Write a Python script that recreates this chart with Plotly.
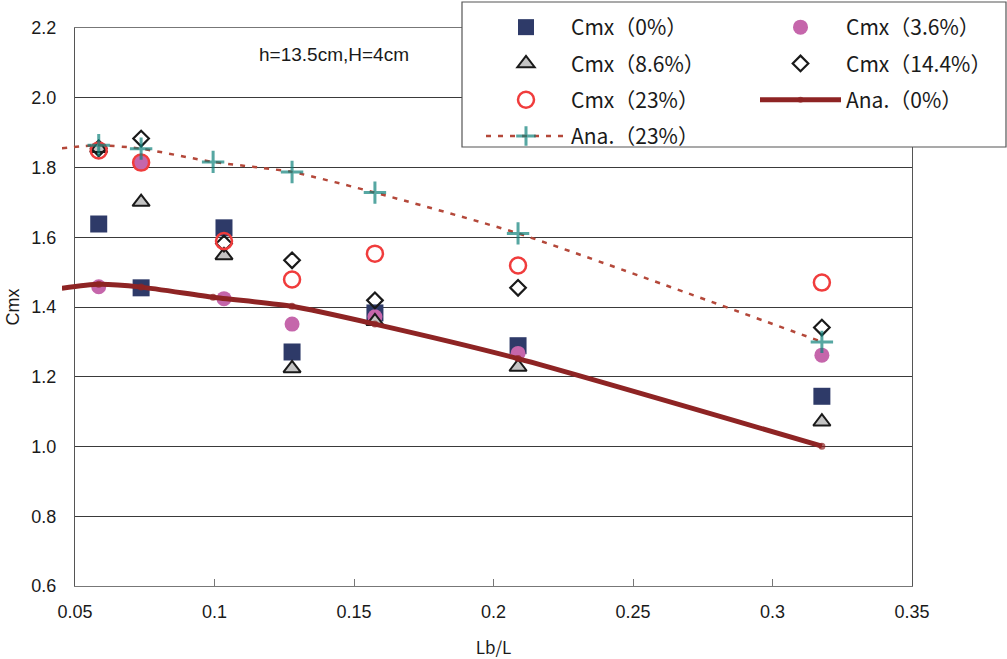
import plotly.graph_objects as go

# ---- data ----
x_meas = [0.0585, 0.0737, 0.1034, 0.1278, 0.1575, 0.2088, 0.3177]
cmx_0 = [1.638, 1.455, 1.627, 1.271, 1.383, 1.289, 1.144]
cmx_3_6 = [1.458, 1.813, 1.424, 1.351, 1.372, 1.267, 1.262]
cmx_8_6 = [1.855, 1.701, 1.548, 1.224, 1.359, 1.228, 1.071]
cmx_14_4 = [1.855, 1.883, 1.582, 1.534, 1.419, 1.455, 1.341]
cmx_23 = [1.849, 1.814, 1.589, 1.479, 1.553, 1.519, 1.470]

x_ana = [0.0453, 0.0585, 0.0737, 0.0995, 0.1278, 0.1575, 0.2088, 0.3177]
ana_0 = [1.454, 1.465, 1.457, 1.428, 1.402, 1.351, 1.252, 1.001]
ana_23 = [1.855, 1.864, 1.854, 1.816, 1.787, 1.728, 1.611, 1.300]

x_ticks = [0.05, 0.1, 0.15, 0.2, 0.25, 0.3, 0.35]
x_tick_text = ["0.05", "0.1", "0.15", "0.2", "0.25", "0.3", "0.35"]
y_ticks = [0.6, 0.8, 1.0, 1.2, 1.4, 1.6, 1.8, 2.0, 2.2]
y_tick_text = ["0.6", "0.8", "1.0", "1.2", "1.4", "1.6", "1.8", "2.0", "2.2"]

# ---- page geometry (pixels) ----
W, H = 1007, 659
M_L, M_R, M_T, M_B = 55, 95, 28, 73
PLOT_W = W - M_L - M_R
PLOT_H = H - M_T - M_B
X_LEFT_PX = 75          # where x = 0.05 sits
X_EXT_PX = 62           # curves are allowed to start a bit further left
X_MIN, X_MAX = 0.05, 0.35
dom_main = (X_LEFT_PX - M_L) / PLOT_W
dom_ext = (X_EXT_PX - M_L) / PLOT_W
units_per_px = (X_MAX - X_MIN) / (W - M_R - X_LEFT_PX)
x_ext_min = X_MAX - (W - M_R - X_EXT_PX) * units_per_px


def px_x(px):
    return (px - M_L) / PLOT_W


def px_y(py):
    return (H - M_B - py) / PLOT_H


LEG_FONT = dict(family="Noto Sans CJK JP", size=21, color="#1a1a1a")

fig = go.Figure()


def meas(name, y, symbol, size, color, line_color, line_width, legend):
    fig.add_trace(go.Scatter(
        x=x_meas, y=y, mode="markers", name=name,
        legend=legend, legendgroup=name,
        marker=dict(symbol=symbol, size=size, color=color,
                    line=dict(color=line_color, width=line_width)),
        xaxis="x", yaxis="y", cliponaxis=False,
    ))


meas("Cmx（0%）", cmx_0, "square", 17, "#2E3A68", "#2E3A68", 0, "legend")
meas("Cmx（3.6%）", cmx_3_6, "circle", 15, "#C566AB", "#C566AB", 0, "legend2")
meas("Cmx（8.6%）", cmx_8_6, "triangle-up", 15, "#C4C4C4", "#1a1a1a", 2, "legend")
meas("Cmx（14.4%）", cmx_14_4, "diamond-open", 12, "#1a1a1a", "#1a1a1a", 2.2, "legend2")
meas("Cmx（23%）", cmx_23, "circle-open", 16, "#F03C3C", "#F03C3C", 2.5, "legend")

# analytical curves live on an overlay subplot whose domain reaches a little
# further left than the plotted axes
fig.add_trace(go.Scatter(
    x=x_ana, y=ana_0, mode="lines+markers", name="Ana.（0%）",
    legend="legend2", legendgroup="ana0",
    line=dict(color="#8E2424", width=5, shape="spline", smoothing=0.6),
    marker=dict(symbol="circle", size=[0] + [7] * (len(x_ana) - 1),
                color="#8E2424", line=dict(width=0, color="#8E2424")),
    xaxis="x2", yaxis="y2",
))
fig.add_trace(go.Scatter(
    x=x_ana, y=ana_23, mode="lines+markers", name="Ana.（23%）",
    legend="legend", legendgroup="ana23",
    line=dict(color="#B4483A", width=2.5, dash="5px,7px", shape="spline", smoothing=0.6),
    marker=dict(symbol="cross-thin", size=[0] + [16] * (len(x_ana) - 1),
                line=dict(color="#0F827C", width=3), color="#0F827C"),
    xaxis="x2", yaxis="y2",
))

axis_font = dict(family="Liberation Sans", size=18, color="#1a1a1a")

legend_common = dict(
    xref="paper", yref="paper", xanchor="left", yanchor="top", font=LEG_FONT,
    bgcolor="rgba(0,0,0,0)", borderwidth=0,
    tracegroupgap=6, traceorder="grouped",
)

fig.update_layout(
    width=W, height=H,
    margin=dict(l=M_L, r=M_R, t=M_T, b=M_B, autoexpand=False),
    paper_bgcolor="white", plot_bgcolor="rgba(0,0,0,0)",
    xaxis=dict(
        domain=[dom_main, 1], range=[X_MIN, X_MAX],
        tickvals=x_ticks, ticktext=x_tick_text, tickfont=axis_font,
        ticks="inside", ticklen=7, tickcolor="#777777",
        showgrid=False, zeroline=False,
        showline=True, linecolor="#777777", linewidth=1.2, mirror=True,
        ticklabelstandoff=9,
        title=dict(text="Lb/L", font=dict(family="Noto Sans CJK JP", size=17, color="#1a1a1a"),
                   standoff=23),
    ),
    yaxis=dict(
        range=[0.6, 2.2], tickvals=y_ticks, ticktext=y_tick_text, tickfont=axis_font,
        showgrid=True, gridcolor="#3a3a3a", gridwidth=1, zeroline=False,
        showline=True, linecolor="#555555", linewidth=1.2, mirror=True,
        ticks="", ticklabelstandoff=14,
        title=dict(text="Cmx", font=axis_font, standoff=6),
    ),
    xaxis2=dict(domain=[dom_ext, 1], range=[x_ext_min, X_MAX], anchor="y2",
                visible=False, fixedrange=True),
    yaxis2=dict(domain=[0, 1], range=[0.6, 2.2], anchor="x2",
                visible=False, fixedrange=True),
    legend=dict(x=px_x(481), y=px_y(7), itemwidth=80, **legend_common),
    legend2=dict(x=px_x(755), y=px_y(7), itemwidth=81, **legend_common),
    shapes=[dict(
        type="rect", xref="paper", yref="paper",
        x0=px_x(462), x1=px_x(1006), y0=px_y(147), y1=px_y(2),
        fillcolor="white", line=dict(color="#555555", width=1.2), layer="above",
    )],
    annotations=[dict(
        text="h=13.5cm,H=4cm", xref="paper", yref="paper",
        x=px_x(334), y=px_y(55), xanchor="center", yanchor="middle",
        showarrow=False, font=dict(family="Liberation Sans", size=19, color="#1a1a1a"),
    )],
    showlegend=True,
)

fig.write_html("out.html")
